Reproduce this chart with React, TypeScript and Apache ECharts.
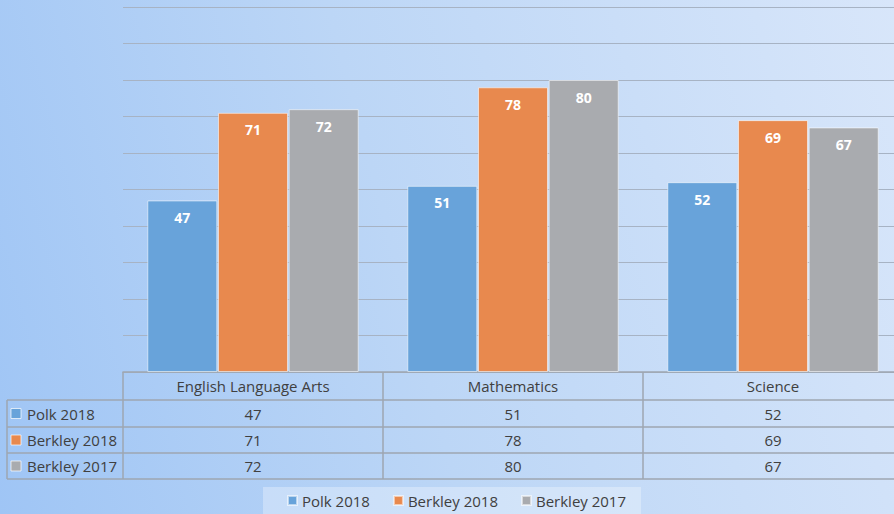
import React, { useEffect, useRef } from "react";
import * as echarts from "echarts";

const categories = ["English Language Arts", "Mathematics", "Science"];
const seriesNames = ["Polk 2018", "Berkley 2018", "Berkley 2017"];
const polk2018 = [47, 51, 52];
const berkley2018 = [71, 78, 69];
const berkley2017 = [72, 80, 67];
const seriesValues = [polk2018, berkley2018, berkley2017];
const seriesColors = ["#68a3da", "#e8894e", "#a9abaf"];

const FONT = "'Open Sans', 'Noto Sans', sans-serif";
const TEXT = "#404040";
const LINE = "#9ea6b0";

export default function App() {
  const ref = useRef<HTMLDivElement>(null);
  useEffect(() => {
    if (!ref.current) return;
    const chart = echarts.init(ref.current, null, { renderer: "svg" });
    const gridLeft = 123;
    const gridTop = 7;
    const gridBottom = 142;
    const axisY = 514 - gridBottom;
    chart.setOption({
      animation: false,
      backgroundColor: "transparent",
      grid: {
        left: gridLeft,
        width: 780,
        top: gridTop,
        bottom: gridBottom,
        outerBoundsMode: "none",
        containLabel: false,
      },
      xAxis: {
        type: "category",
        data: categories,
        axisLine: { show: true, lineStyle: { color: LINE, width: 1.5 } },
        axisTick: { show: false },
        axisLabel: { margin: 6, color: TEXT, fontSize: 15, fontFamily: FONT },
      },
      yAxis: {
        type: "value",
        min: 0,
        max: 100,
        interval: 10,
        axisLabel: { show: false },
        axisLine: { show: false },
        axisTick: { show: false },
        splitLine: { lineStyle: { color: "#a7b3c4", width: 1.2 } },
      },
      legend: {
        data: seriesNames,
        left: 263,
        top: 487,
        icon: "rect",
        itemWidth: 9,
        itemHeight: 9,
        itemGap: 23,
        padding: [6, 15, 8, 24],
        backgroundColor: "rgba(255,255,255,0.3)",
        textStyle: { color: TEXT, fontSize: 15, fontFamily: FONT },
      },
      series: seriesNames.map((name, i) => ({
        name,
        type: "bar",
        data: seriesValues[i],
        barWidth: 70,
        barGap: "1%",
        itemStyle: {
          color: seriesColors[i],
          borderColor: "rgba(255,255,255,0.55)",
          borderWidth: 1,
        },
        label: {
          show: true,
          position: "insideTop",
          distance: 10,
          color: "#ffffff",
          fontWeight: "bold",
          fontSize: 14,
          fontFamily: FONT,
        },
      })),
    });

    // data table below the axis
    const centers = categories.map(
      (c) => chart.convertToPixel({ xAxisIndex: 0 }, c) as number
    );
    const half = (centers[1] - centers[0]) / 2;
    const colEdges = centers.map((c) => c - half);
    const rowTops = [400, 427, 453, 479];
    const graphics: any[] = [];
    const line = (x1: number, y1: number, x2: number, y2: number) =>
      graphics.push({
        type: "line",
        shape: { x1, y1, x2, y2 },
        style: { stroke: LINE, lineWidth: 1.5 },
        silent: true,
      });
    rowTops.forEach((y) => line(7, y, 900, y));
    line(7, rowTops[0], 7, rowTops[3]);
    colEdges.forEach((x) => line(x, axisY, x, rowTops[3]));
    seriesNames.forEach((name, r) => {
      const cy = (rowTops[r] + rowTops[r + 1]) / 2;
      graphics.push({
        type: "rect",
        shape: { x: 11, y: cy - 5, width: 10, height: 10 },
        style: { fill: seriesColors[r], stroke: "rgba(255,255,255,0.7)", lineWidth: 1 },
        silent: true,
      });
      graphics.push({
        type: "text",
        x: 27,
        y: cy,
        style: {
          text: name,
          fill: TEXT,
          font: `15px ${FONT}`,
          verticalAlign: "middle",
        },
        silent: true,
      });
      centers.forEach((cx, k) => {
        graphics.push({
          type: "text",
          x: cx,
          y: cy,
          style: {
            text: String(seriesValues[r][k]),
            fill: TEXT,
            font: `15px ${FONT}`,
            align: "center",
            verticalAlign: "middle",
          },
          silent: true,
        });
      });
    });
    chart.setOption({ graphic: graphics });
    return () => chart.dispose();
  }, []);
  return (
    <div
      ref={ref}
      style={{
        position: "fixed",
        left: 0,
        top: 0,
        width: 894,
        height: 514,
        background: "linear-gradient(75deg, #9fc5f5 0%, #bcd6f6 45%, #d8e6fa 100%)",
      }}
    />
  );
}
